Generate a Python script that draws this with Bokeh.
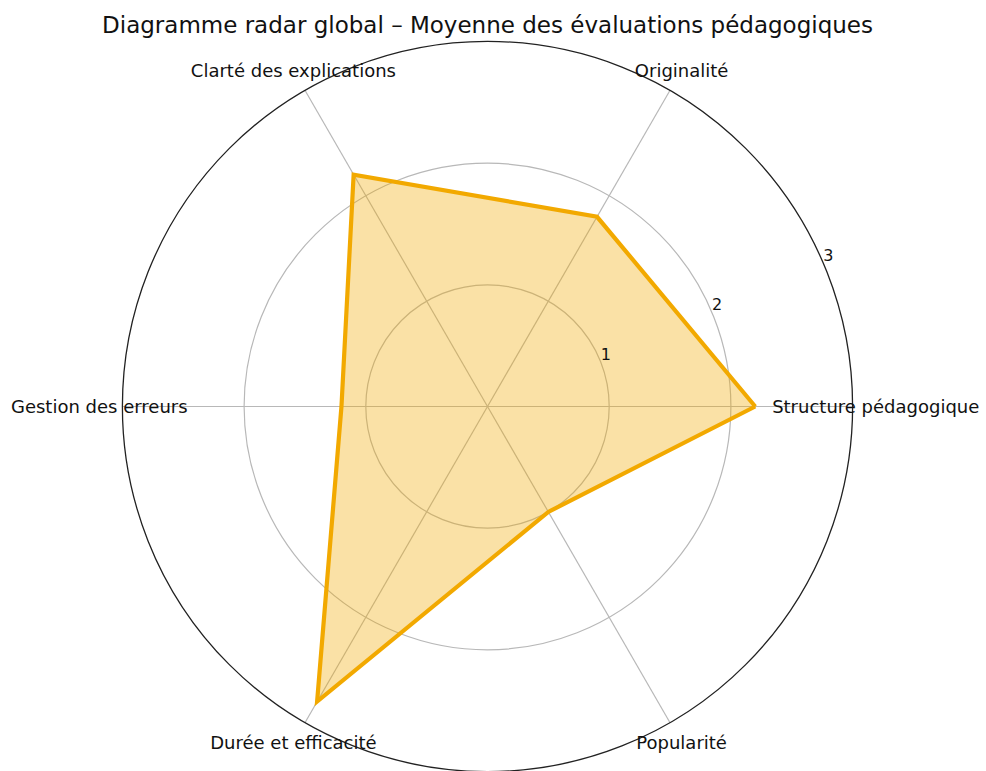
import numpy as np
from bokeh.plotting import figure
from bokeh.models import Range1d, Label
from bokeh.embed import file_html
from bokeh.resources import INLINE

# Data
categories = ["Structure pédagogique", "Originalité", "Clarté des explications",
              "Gestion des erreurs", "Durée et efficacité", "Popularité"]
values = [2.2, 1.8, 2.2, 1.2, 2.8, 1.0]
r_ticks = [1, 2, 3]
r_tick_labels = ["1", "2", "3"]
r_max = 3
title_text = "Diagramme radar global – Moyenne des évaluations pédagogiques"

W, H = 986, 771
scale = 121.7           # px per unit
cx, cy = 487, 406       # center in figure px (from top-left)

p = figure(width=W, height=H, output_backend="svg", toolbar_location=None,
           x_range=Range1d(-cx / scale, (W - cx) / scale),
           y_range=Range1d(-(H - cy) / scale, cy / scale),
           min_border=0)
p.axis.visible = False
p.grid.visible = False
p.outline_line_color = None
p.background_fill_color = "white"

n = len(categories)
angles = np.arange(n) * 2 * np.pi / n
font = "DejaVu Sans"

# spokes
for a in angles:
    p.line([0, r_max * np.cos(a)], [0, r_max * np.sin(a)], line_color="#b8b8b8", line_width=1.2)
# grid circles
p.circle(x=[0] * (len(r_ticks) - 1), y=[0] * (len(r_ticks) - 1), radius=r_ticks[:-1],
         fill_color=None, line_color="#b8b8b8", line_width=1.2)
p.circle(x=[0], y=[0], radius=[r_max], fill_color=None, line_color="#222222", line_width=1.3)

# data polygon
vx = [v * np.cos(a) for v, a in zip(values, angles)]
vy = [v * np.sin(a) for v, a in zip(values, angles)]
p.patch(vx, vy, fill_color="#F2A900", fill_alpha=0.35, line_color=None)
p.line(vx + [vx[0]], vy + [vy[0]], line_color="#F2A900", line_width=4.2, line_join="miter")

# radial tick labels
ta = np.deg2rad(24)
for r, t in zip(r_ticks, r_tick_labels):
    p.add_layout(Label(x=(r + 0.065) * np.cos(ta), y=(r + 0.065) * np.sin(ta), text=t,
                       text_align="center", text_baseline="middle",
                       text_font=font, text_font_size="16px", text_color="#111111"))

# category labels
rl = 3.19
for c, a in zip(categories, angles):
    p.add_layout(Label(x=rl * np.cos(a), y=rl * np.sin(a), text=c,
                       text_align="center", text_baseline="middle",
                       text_font=font, text_font_size="18px", text_color="#111111"))

# title
p.add_layout(Label(x=0, y=(cy - 24) / scale, text=title_text,
                   text_align="center", text_baseline="middle",
                   text_font=font, text_font_size="23px", text_color="#111111"))

open("out.html", "w").write(file_html(p, INLINE))
